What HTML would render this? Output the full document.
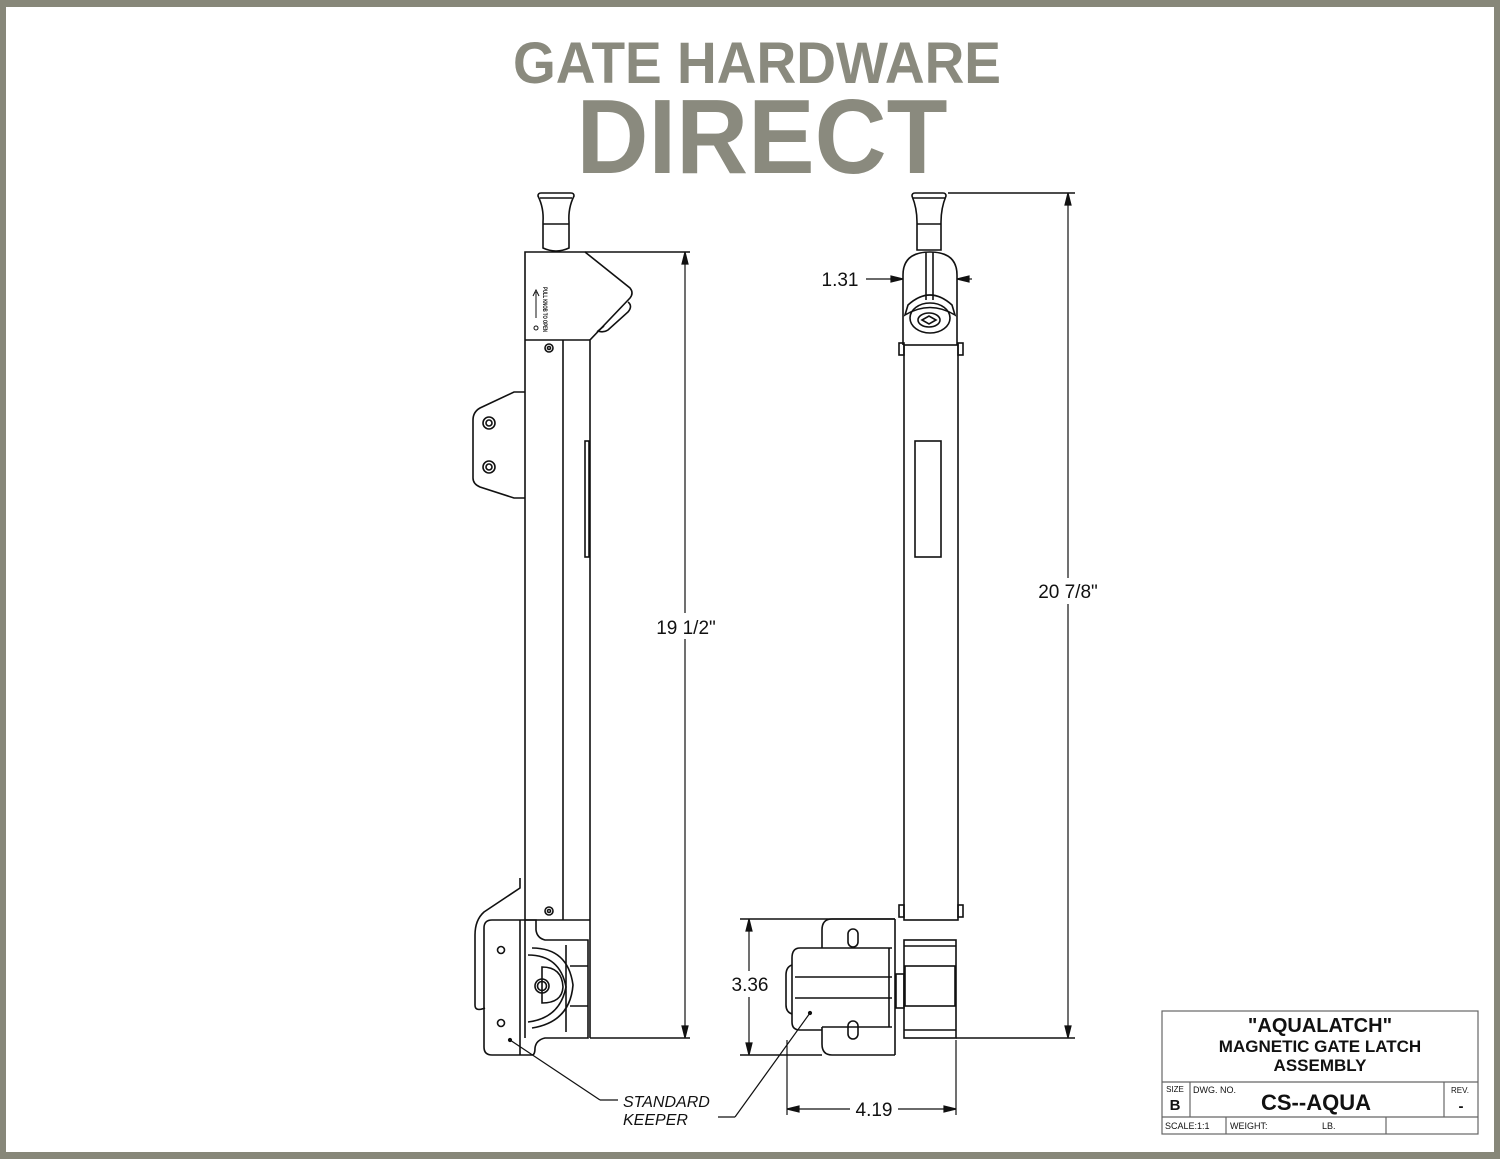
<!DOCTYPE html>
<html><head><meta charset="utf-8"><style>
html,body{margin:0;padding:0;background:#fff}
svg{display:block}
text{font-family:"Liberation Sans",Arial,sans-serif}
</style></head><body>
<svg width="1500" height="1159" viewBox="0 0 1500 1159" xmlns="http://www.w3.org/2000/svg">
<rect x="0" y="0" width="1500" height="1159" fill="#878779"/>
<rect x="6" y="7" width="1488" height="1145" fill="#fff"/>
<text x="757" y="83" font-size="58" font-weight="bold" fill="#8a8a7e" text-anchor="middle" textLength="488" lengthAdjust="spacingAndGlyphs">GATE HARDWARE</text>
<text x="762" y="173" font-size="106" font-weight="bold" fill="#8a8a7e" text-anchor="middle" textLength="371" lengthAdjust="spacingAndGlyphs">DIRECT</text>

<g fill="none" stroke="#111" stroke-width="1.6">
<!-- LEFT VIEW -->
<path d="M538,196 Q538,193 541,193 L571,193 Q574,193 574,196 Q568,208 569,222 L569,248 Q556,254 543,248 L543,222 Q544,208 538,196 Z"/>
<line x1="540" y1="198" x2="572" y2="198"/>
<line x1="543" y1="224" x2="569" y2="224"/>
<path d="M525,1038 L525,252 L585,252 L630,288 Q634,293 630,298 L590,340 L590,1038"/>
<path d="M628,302 Q633,306 628,312 L608,330 Q603,333 598,331 L604,326"/>
<line x1="525" y1="340" x2="590" y2="340"/>
<line x1="563" y1="340" x2="563" y2="920"/>
<line x1="585" y1="252" x2="690" y2="252"/>
<rect x="585" y="441" width="4" height="116"/>
<path d="M525,392 L514,392 L480,408 Q473,412 473,420 L473,478 Q473,484 480,487 L514,498 L525,498"/>
<circle cx="489" cy="423" r="6"/><circle cx="489" cy="423" r="3"/>
<circle cx="489" cy="467" r="6"/><circle cx="489" cy="467" r="3"/>
<circle cx="549" cy="348" r="4"/><circle cx="549" cy="348" r="1.5"/>
<circle cx="549" cy="911" r="4"/><circle cx="549" cy="911" r="1.5"/>
<line x1="525" y1="920" x2="590" y2="920"/>
<path d="M520,878 L520,888 L484,912 Q475,920 475,935 L475,1005 Q475,1012 485,1008"/>
<path d="M536,920 L492,920 Q484,920 484,928 L484,1047 Q484,1055 492,1055 L532,1055 Q535,1055 535,1048 Q536,1040 545,1038 L588,1038 L588,940 L545,940 Q537,938 536,930 Z"/>
<line x1="520" y1="920" x2="520" y2="1055"/>
<circle cx="501" cy="950" r="3.5"/><circle cx="501" cy="1023" r="3.5"/>
<path d="M532,948 Q568,948 573,985 Q570,1022 532,1028"/>
<path d="M528,955 Q560,955 566,987 Q560,1018 528,1022"/>
<path d="M542,967 Q562,967 563,987 Q562,1003 542,1003 Z"/>
<circle cx="542" cy="986" r="7"/><circle cx="542" cy="986" r="4.5"/>
<line x1="566" y1="945" x2="566" y2="1032"/>
<line x1="570" y1="966" x2="588" y2="966"/><line x1="570" y1="1006" x2="588" y2="1006"/>
<line x1="590" y1="1038" x2="690" y2="1038"/>

<!-- RIGHT VIEW -->
<path d="M912,196 Q912,193 915,193 L943,193 Q946,193 946,196 Q941,208 941,222 L941,250 L917,250 L917,222 Q917,208 912,196 Z"/>
<line x1="913" y1="198" x2="945" y2="198"/>
<line x1="917" y1="224" x2="941" y2="224"/>
<path d="M903,345 L903,275 Q903,252 930,252 Q957,252 957,275 L957,345"/>
<line x1="926" y1="252" x2="926" y2="300"/><line x1="933" y1="252" x2="933" y2="300"/>
<path d="M908,305 Q930,285 952,305 L955,315 Q930,300 905,315 Z"/>
<ellipse cx="930" cy="318" rx="20" ry="15"/>
<ellipse cx="929" cy="320" rx="11" ry="7"/>
<path d="M922,320 L929,316 L936,320 L929,324 Z"/>
<rect x="904" y="345" width="54" height="575"/>
<rect x="899" y="343" width="5" height="12"/><rect x="958" y="343" width="5" height="12"/>
<rect x="899" y="905" width="5" height="12"/><rect x="958" y="905" width="5" height="12"/>
<rect x="915" y="441" width="26" height="116"/>
<line x1="948" y1="193" x2="1075" y2="193"/>
<rect x="904" y="940" width="52" height="98"/>
<line x1="904" y1="946" x2="956" y2="946"/>
<rect x="905" y="966" width="50" height="40"/>
<line x1="904" y1="1030" x2="956" y2="1030"/>
<rect x="896" y="974" width="8" height="34"/>
<line x1="956" y1="1038" x2="1075" y2="1038"/>
<!-- keeper right -->
<path d="M895,919 L832,919 Q822,919 822,930 L822,948"/>
<path d="M895,1055 L832,1055 Q822,1055 822,1044 L822,1027"/>
<line x1="895" y1="919" x2="895" y2="1055"/>
<rect x="848" y="929" width="10" height="18" rx="5"/><rect x="848" y="1021" width="10" height="18" rx="5"/>
<path d="M822,948 L800,948 Q792,948 792,958 L792,1022 Q792,1030 800,1030 L822,1030"/>
<line x1="822" y1="948" x2="892" y2="948"/><line x1="822" y1="1027" x2="892" y2="1027"/>
<line x1="795" y1="977" x2="892" y2="977"/><line x1="795" y1="998" x2="892" y2="998"/>
<path d="M792,965 Q786,967 786,975 L786,1005 Q786,1012 792,1014"/>
<line x1="889" y1="948" x2="889" y2="1027"/>
<line x1="740" y1="919" x2="895" y2="919"/>
<line x1="740" y1="1055" x2="822" y2="1055"/>
</g>

<!-- dimensions -->
<g stroke="#111" stroke-width="1.2" fill="#111">
<line x1="685" y1="252" x2="685" y2="1038"/>
<path d="M685,252 l-3,12 h6 z"/><path d="M685,1038 l-3,-12 h6 z"/>
<line x1="1068" y1="193" x2="1068" y2="1038"/>
<path d="M1068,193 l-3,12 h6 z"/><path d="M1068,1038 l-3,-12 h6 z"/>
<line x1="749" y1="919" x2="749" y2="1055"/>
<path d="M749,919 l-3,12 h6 z"/><path d="M749,1055 l-3,-12 h6 z"/>
<line x1="787" y1="1040" x2="787" y2="1115"/>
<line x1="956" y1="1040" x2="956" y2="1115"/>
<line x1="787" y1="1109" x2="956" y2="1109"/>
<path d="M787,1109 l12,-3 v6 z"/><path d="M956,1109 l-12,-3 v6 z"/>
<line x1="866" y1="279" x2="903" y2="279"/><path d="M903,279 l-12,-3 v6 z"/>
<line x1="972" y1="279" x2="957" y2="279"/><path d="M957,279 l12,-3 v6 z"/>
<line x1="510" y1="1040" x2="600" y2="1100" fill="none"/>
<line x1="600" y1="1100" x2="618" y2="1100"/>
<line x1="810" y1="1013" x2="735" y2="1117"/>
<line x1="735" y1="1117" x2="718" y2="1117"/>
<circle cx="510" cy="1040" r="1.5"/><circle cx="810" cy="1013" r="1.5"/>
</g>
<rect x="650" y="613" width="72" height="26" fill="#fff"/>
<text x="686" y="634" font-size="19" text-anchor="middle" fill="#111">19 1/2"</text>
<rect x="1030" y="578" width="76" height="26" fill="#fff"/>
<text x="1068" y="598" font-size="19" text-anchor="middle" fill="#111">20 7/8"</text>
<rect x="728" y="971" width="44" height="26" fill="#fff"/>
<text x="750" y="991" font-size="19" text-anchor="middle" fill="#111">3.36</text>
<rect x="850" y="1097" width="48" height="24" fill="#fff"/>
<text x="874" y="1116" font-size="19" text-anchor="middle" fill="#111">4.19</text>
<text x="840" y="286" font-size="19" text-anchor="middle" fill="#111">1.31</text>
<text x="623" y="1107" font-size="16" font-style="italic" fill="#111">STANDARD</text>
<text x="623" y="1125" font-size="16" font-style="italic" fill="#111">KEEPER</text>
<text transform="translate(543,287) rotate(90)" font-size="6.5" font-weight="bold" fill="#111" textLength="45" lengthAdjust="spacingAndGlyphs">PULL KNOB TO OPEN</text>
<g stroke="#111" stroke-width="1" fill="none"><line x1="536" y1="292" x2="536" y2="318"/><path d="M533,296 l3,-6 l3,6"/><circle cx="536" cy="328" r="2"/></g>

<!-- title block -->
<g stroke="#666" stroke-width="1.2" fill="none">
<rect x="1162" y="1011" width="316" height="123"/>
<line x1="1162" y1="1082" x2="1478" y2="1082"/>
<line x1="1162" y1="1117" x2="1478" y2="1117"/>
<line x1="1190" y1="1082" x2="1190" y2="1117"/>
<line x1="1444" y1="1082" x2="1444" y2="1117"/>
<line x1="1226" y1="1117" x2="1226" y2="1134"/>
<line x1="1386" y1="1117" x2="1386" y2="1134"/>
</g>
<g fill="#111" text-anchor="middle">
<text x="1320" y="1032" font-size="20" font-weight="bold">"AQUALATCH"</text>
<text x="1320" y="1052" font-size="17" font-weight="bold">MAGNETIC GATE LATCH</text>
<text x="1320" y="1071" font-size="17" font-weight="bold">ASSEMBLY</text>
<text x="1316" y="1110" font-size="22" font-weight="bold">CS--AQUA</text>
<text x="1175" y="1092" font-size="8">SIZE</text>
<text x="1175" y="1110" font-size="15" font-weight="bold">B</text>
<text x="1460" y="1093" font-size="8">REV.</text>
<text x="1461" y="1111" font-size="15" font-weight="bold">-</text>
</g>
<g fill="#111" font-size="9">
<text x="1193" y="1093">DWG. NO.</text>
<text x="1165" y="1129">SCALE:1:1</text>
<text x="1230" y="1129">WEIGHT:</text>
<text x="1322" y="1129">LB.</text>
</g>
</svg>
</body></html>
